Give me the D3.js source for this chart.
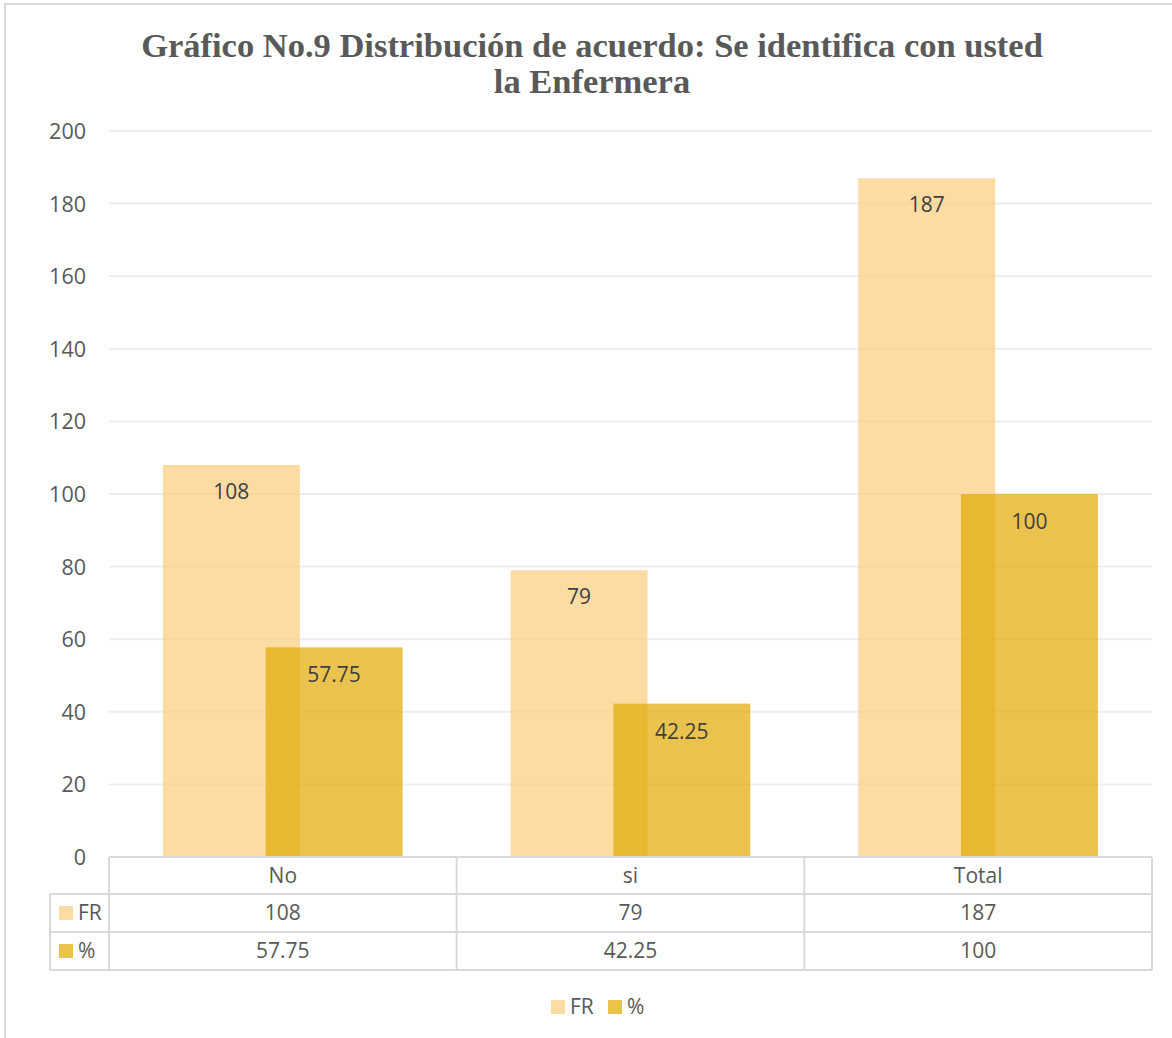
<!DOCTYPE html>
<html>
<head>
<meta charset="utf-8">
<script src="https://cdn.jsdelivr.net/npm/d3@7"></script>
<style>
  html, body { margin: 0; padding: 0; background: #fff; }
  svg { display: block; }
  text { font-family: "Open Sans", "Noto Sans", sans-serif; }
</style>
</head>
<body>
<svg id="chart" width="1172" height="1038"></svg>
<script>
// Data
const categories = ["No", "si", "Total"];
const seriesNames = ["FR", "%"];
const frValues = [108, 79, 187];
const pctValues = [57.75, 42.25, 100];
const pctLabels = ["57.75", "42.25", "100"];
const yTicks = [0, 20, 40, 60, 80, 100, 120, 140, 160, 180, 200];
const titleLines = ["Gráfico No.9 Distribución de acuerdo: Se identifica con usted", "la Enfermera"];

const frColor = "rgb(252,205,126)";
const pctColor = "rgb(224,169,1)";
const frOpacity = 0.7;
const pctOpacity = 0.7;
const gridColor = "#EDEDED";
const tableColor = "#D9D9D9";
const textColor = "#595959";
const labelColor = "#404040";

const svg = d3.select("#chart");

// Chart frame
svg.append("rect").attr("x", 5).attr("y", 4).attr("width", 1200).attr("height", 1100)
  .attr("fill", "#fff").attr("stroke", "#D9D9D9").attr("stroke-width", 2);

// Plot geometry
const plot = { left: 109, right: 1152, top: 131, bottom: 857 };

const x = d3.scaleBand().domain(categories).range([plot.left, plot.right]).padding(0);
const y = d3.scaleLinear().domain([0, 200]).range([plot.bottom, plot.top]);

const bw = x.bandwidth();
const barW = bw * 0.394;
const barOffset = bw * 0.155;
const shift = barW * 0.75;

// Title
const title = svg.append("g").attr("font-weight", "bold").attr("fill", textColor).attr("text-anchor", "middle");
title.selectAll("text").data(titleLines).join("text")
  .attr("x", 592).attr("y", (d, i) => 57 + i * 36)
  .attr("font-size", 34.5)
  .style("font-family", "'Liberation Serif', 'Times New Roman', serif")
  .text(d => d);

// Gridlines
svg.append("g").selectAll("line").data(yTicks.filter(t => t > 0)).join("line")
  .attr("x1", plot.left).attr("x2", plot.right)
  .attr("y1", d => y(d)).attr("y2", d => y(d))
  .attr("stroke", gridColor).attr("stroke-width", 2);

// Y axis labels
const yAxis = d3.axisLeft(y).tickValues(yTicks).tickSize(0).tickPadding(0);
const yg = svg.append("g").attr("transform", `translate(86,0)`).call(yAxis);
yg.select(".domain").remove();
yg.selectAll("text").attr("font-size", 21.5).attr("fill", textColor)
  .style("font-family", "'Open Sans', sans-serif").attr("dy", "0.35em");

// Bars
const barsG = svg.append("g");
barsG.selectAll("rect.fr").data(frValues).join("rect").attr("class", "fr")
  .attr("x", (d, i) => x(categories[i]) + barOffset)
  .attr("width", barW)
  .attr("y", d => y(d)).attr("height", d => y(0) - y(d))
  .attr("fill", frColor).attr("fill-opacity", frOpacity);
barsG.selectAll("rect.pct").data(pctValues).join("rect").attr("class", "pct")
  .attr("x", (d, i) => x(categories[i]) + barOffset + shift)
  .attr("width", barW)
  .attr("y", d => y(d)).attr("height", d => y(0) - y(d))
  .attr("fill", pctColor).attr("fill-opacity", pctOpacity);

// Data labels inside bar ends
const labG = svg.append("g").attr("text-anchor", "middle").attr("fill", labelColor).attr("font-size", 21);
labG.selectAll("text.fr").data(frValues).join("text").attr("class", "fr")
  .attr("x", (d, i) => x(categories[i]) + barOffset + barW / 2)
  .attr("y", d => y(d) + 34)
  .text(d => d);
labG.selectAll("text.pct").data(pctValues).join("text").attr("class", "pct")
  .attr("x", (d, i) => x(categories[i]) + barOffset + shift + barW / 2)
  .attr("y", d => y(d) + 35)
  .text((d, i) => pctLabels[i]);

// Data table below the axis
const rowsY = [857, 894, 932, 970];
const tableLeft = 50;
const tbl = svg.append("g").attr("stroke", tableColor).attr("stroke-width", 2).attr("fill", "none");
// horizontal lines
tbl.append("line").attr("x1", plot.left).attr("x2", plot.right).attr("y1", rowsY[0]).attr("y2", rowsY[0]);
[1, 2, 3].forEach(k => {
  tbl.append("line").attr("x1", tableLeft).attr("x2", plot.right).attr("y1", rowsY[k]).attr("y2", rowsY[k]);
});
// vertical lines
tbl.append("line").attr("x1", tableLeft).attr("x2", tableLeft).attr("y1", rowsY[1]).attr("y2", rowsY[3]);
const colEdges = categories.map(c => x(c)).concat([plot.right]);
colEdges.forEach(cx => {
  tbl.append("line").attr("x1", cx).attr("x2", cx).attr("y1", rowsY[0]).attr("y2", rowsY[3]);
});

const tt = svg.append("g").attr("fill", textColor).attr("font-size", 21).attr("text-anchor", "middle");
const rowMid = k => (rowsY[k] + rowsY[k + 1]) / 2;
tt.selectAll("text.cat").data(categories).join("text").attr("class", "cat")
  .attr("x", d => x(d) + bw / 2).attr("y", rowMid(0)).attr("dy", "0.35em").text(d => d);
tt.selectAll("text.frv").data(frValues).join("text").attr("class", "frv")
  .attr("x", (d, i) => x(categories[i]) + bw / 2).attr("y", rowMid(1)).attr("dy", "0.35em").text(d => d);
tt.selectAll("text.pctv").data(pctLabels).join("text").attr("class", "pctv")
  .attr("x", (d, i) => x(categories[i]) + bw / 2).attr("y", rowMid(2)).attr("dy", "0.35em").text(d => d);

// Row headers with legend keys
const colors = [frColor, pctColor];
const opac = [frOpacity, pctOpacity];
seriesNames.forEach((s, i) => {
  const cy = rowMid(i + 1);
  svg.append("rect").attr("x", 59).attr("y", cy - 7).attr("width", 14).attr("height", 14)
    .attr("fill", colors[i]).attr("fill-opacity", opac[i]);
  svg.append("text").attr("x", 78).attr("y", cy).attr("dy", "0.35em")
    .attr("font-size", 21).attr("fill", textColor).text(s);
});

// Bottom legend
const legend = svg.append("g").attr("transform", "translate(551,1007)");
const legX = [0, 57];
seriesNames.forEach((s, i) => {
  legend.append("rect").attr("x", legX[i]).attr("y", -7).attr("width", 14).attr("height", 14)
    .attr("fill", colors[i]).attr("fill-opacity", opac[i]);
  legend.append("text").attr("x", legX[i] + 19).attr("y", 0).attr("dy", "0.35em")
    .attr("font-size", 21).attr("fill", textColor).text(s);
});
</script>
</body>
</html>
